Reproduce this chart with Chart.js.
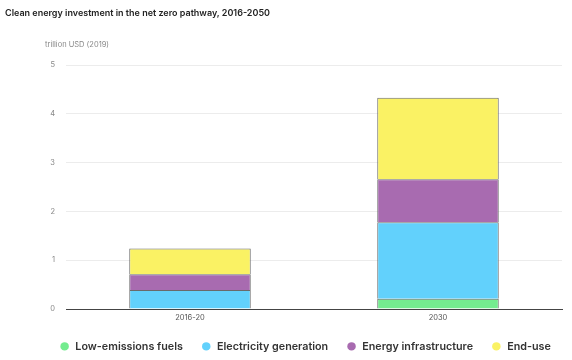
<!DOCTYPE html>
<html lang="en">
<head>
  <meta charset="UTF-8">
  <title>Clean energy investment in the net zero pathway</title>
  <script src="https://cdn.jsdelivr.net/npm/chart.js"></script>
  <style>
    body {
      margin: 0;
      background: #fff;
      font-family: "Inter", "Open Sans", sans-serif;
    }
    .wrap {
      position: relative;
      width: 572px;
      height: 360px;
    }
    #title {
      position: absolute;
      left: 5px;
      top: 7px;
      font-size: 9px;
      font-weight: 600;
      color: #222;
    }
    #unit {
      position: absolute;
      left: 45px;
      top: 40px;
      font-size: 7.5px;
      color: #888;
    }
  </style>
</head>
<body>
  <div class="wrap">
    <div id="title">Clean energy investment in the net zero pathway, 2016-2050</div>
    <div id="unit">trillion USD (2019)</div>
    <canvas id="chart" width="572" height="360"></canvas>
  </div>

<script>
  const categories = ["2016-20", "2030"];
  const lowEmissionsFuels = [0, 0.21];
  const electricityGeneration = [0.39, 1.57];
  const energyInfrastructure = [0.32, 0.88];
  const endUse = [0.53, 1.67];
  const yTicks = [0, 1, 2, 3, 4, 5];

  const edge = "#6a6a6a";

  function series(label, data, color) {
    return {
      label: label,
      data: data,
      backgroundColor: color,
      borderColor: edge,
      borderWidth: 1,
      barPercentage: 0.98,
      categoryPercentage: 0.5
    };
  }

  // fixed legend height, and nudge it right so it sits under the plot
  const legendTweak = {
    id: "legendTweak",
    beforeInit(chart) {
      const fit = chart.legend.fit;
      chart.legend.fit = function () {
        fit.bind(chart.legend)();
        this.height = 37;
      };
    },
    afterLayout(chart) {
      chart.legend.left += 24;
      chart.legend.right += 24;
    }
  };

  new Chart(document.getElementById("chart"), {
    type: "bar",
    data: {
      labels: categories,
      datasets: [
        series("Low-emissions fuels", lowEmissionsFuels, "#74ec8f"),
        series("Electricity generation", electricityGeneration, "#62d1fc"),
        series("Energy infrastructure", energyInfrastructure, "#a86bb0"),
        series("End-use", endUse, "#faf264")
      ]
    },
    plugins: [legendTweak],
    options: {
      responsive: false,
      animation: false,
      layout: { padding: { top: 65, right: 10, bottom: 0, left: 0 } },
      plugins: {
        tooltip: { enabled: false },
        legend: {
          position: "bottom",
          labels: {
            usePointStyle: true,
            pointStyle: "circle",
            boxWidth: 11,
            boxHeight: 6,
            padding: 18,
            color: "#333",
            font: { family: "Inter", size: 10.75, weight: "600" },
            generateLabels: function (chart) {
              return chart.data.datasets.map(function (ds, i) {
                return {
                  text: ds.label,
                  fillStyle: ds.backgroundColor,
                  strokeStyle: ds.backgroundColor,
                  lineWidth: 0,
                  pointStyle: "circle",
                  datasetIndex: i,
                  fontColor: "#333"
                };
              });
            }
          }
        }
      },
      scales: {
        x: {
          stacked: true,
          grid: { display: false, drawTicks: false },
          border: { color: "#444", width: 1 },
          ticks: { color: "#555", font: { family: "Inter", size: 7.5 }, padding: 4 },
          afterFit: function (scale) { scale.height = 14; }
        },
        y: {
          stacked: true,
          min: 0,
          max: 5,
          afterBuildTicks: function (scale) {
            scale.ticks = yTicks.map(function (v) { return { value: v }; });
          },
          grid: { color: "#ececec", drawTicks: false },
          border: { display: false },
          ticks: { color: "#888", font: { family: "Inter", size: 7.5 }, padding: 11 },
          afterFit: function (scale) { scale.width = 66; }
        }
      }
    }
  });
</script>
</body>
</html>
